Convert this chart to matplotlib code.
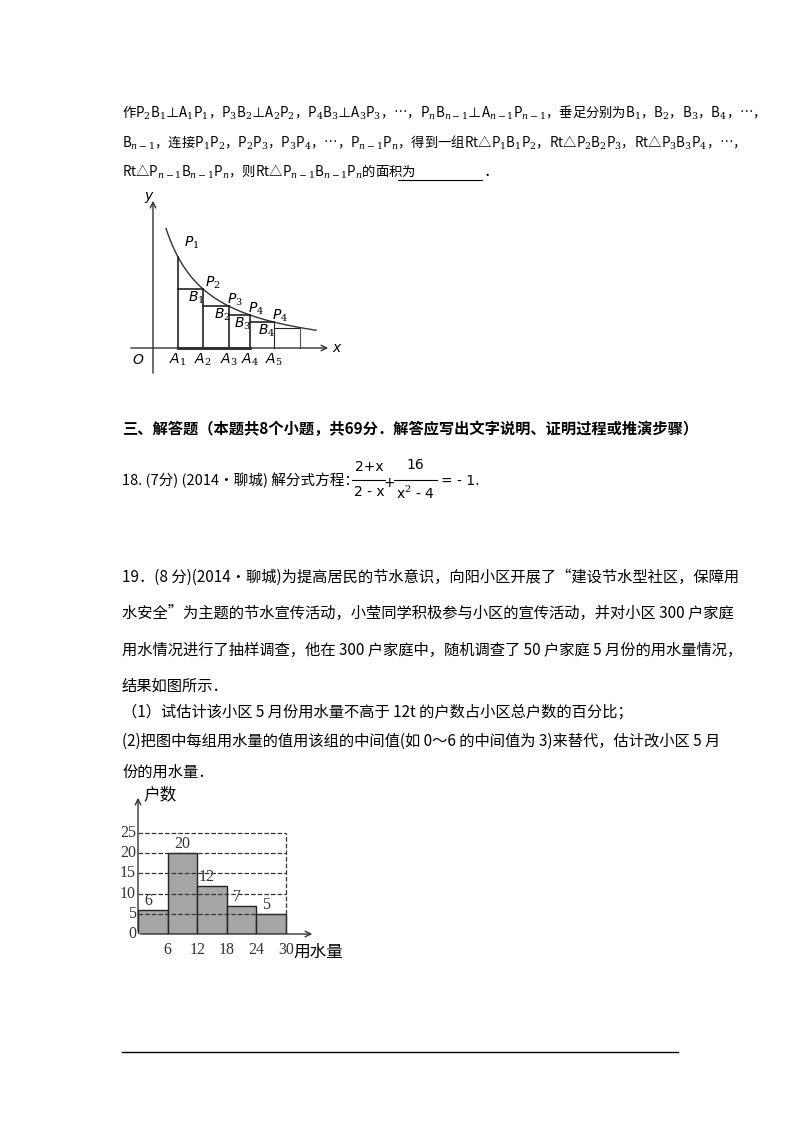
import matplotlib
matplotlib.use("Agg")
import matplotlib.pyplot as plt
import numpy as np

plt.rcParams['font.family'] = ['Noto Sans CJK SC', 'DejaVu Sans']
plt.rcParams['mathtext.fontset'] = 'dejavuserif'

# histogram data
bin_edges = [0, 6, 12, 18, 24, 30]
counts = [6, 20, 12, 7, 5]
y_ticks = [0, 5, 10, 15, 20, 25]
x_ticks = [6, 12, 18, 24, 30]

# geometric diagram data (schematic)
A_pos = [25, 50, 76, 97, 121, 147]
A_labels = ['A$_1$', 'A$_2$', 'A$_3$', 'A$_4$', 'A$_5$']

W, H = 800, 1132
fig = plt.figure(figsize=(8, 11.32), dpi=100)
bg = fig.add_axes([0, 0, 1, 1])
bg.set_xlim(0, W); bg.set_ylim(H, 0); bg.axis('off')

fs = 11
def T(x, y, s, **kw):
    kw.setdefault('fontsize', fs)
    bg.text(x, y, s, va='center', ha='left', **kw)

T(122, 113, '作P$_2$B$_1$⊥A$_1$P$_1$，P$_3$B$_2$⊥A$_2$P$_2$，P$_4$B$_3$⊥A$_3$P$_3$，…，P$_n$B$_{n-1}$⊥A$_{n-1}$P$_{n-1}$，垂足分别为B$_1$，B$_2$，B$_3$，B$_4$，…，', fontsize=9.6)
T(122, 143, 'B$_{n-1}$，连接P$_1$P$_2$，P$_2$P$_3$，P$_3$P$_4$，…，P$_{n-1}$P$_n$，得到一组Rt△P$_1$B$_1$P$_2$，Rt△P$_2$B$_2$P$_3$，Rt△P$_3$B$_3$P$_4$，…，', fontsize=9.6)
T(122, 172, 'Rt△P$_{n-1}$B$_{n-1}$P$_n$，则Rt△P$_{n-1}$B$_{n-1}$P$_n$的面积为', fontsize=9.6)
bg.plot([398, 482], [180, 180], color='black', lw=0.8)
T(484, 172, '．')

# ---- curve diagram in its own axes (pixel-like units)
ox, oy = 153, 348
ax2 = fig.add_axes([(ox - 35) / W, (H - 378) / H, 225 / W, 190 / H])
ax2.set_xlim(-35, 190); ax2.set_ylim(-30, 160); ax2.axis('off')
f = lambda x: 5632 / (x + 30) - 11.4
xs = np.linspace(13, 163, 200)
ax2.plot(xs, f(xs), color='#333', lw=1)
ax2.annotate('', xy=(178, 0), xytext=(-25, 0), arrowprops=dict(arrowstyle='->', color='#333', lw=1))
ax2.annotate('', xy=(0, 150), xytext=(0, -28), arrowprops=dict(arrowstyle='->', color='#333', lw=1))
hs = [f(a) for a in A_pos]
for i in range(5):
    ax2.plot([A_pos[i], A_pos[i]], [0, hs[i]], color='#222', lw=1.2 if i < 4 else 0.8)
    ax2.plot([A_pos[i], A_pos[i + 1]], [hs[i + 1], hs[i + 1]], color='#222', lw=1.2 if i < 4 else 0.8)
ax2.plot([A_pos[5], A_pos[5]], [0, hs[5]], color='#555', lw=0.8)
ax2.plot([A_pos[0], A_pos[3]], [0, 0], color='#222', lw=2)
it = dict(fontsize=10, style='italic', family=['DejaVu Sans'])
for i, lab in enumerate(A_labels):
    ax2.text(A_pos[i], -12, lab, ha='center', va='center', **it)
ax2.text(-15, -12, 'O', ha='center', va='center', **it)
ax2.text(183, 0, 'x', ha='center', va='center', **it)
ax2.text(-5, 152, 'y', ha='center', va='center', **it)
for i, (dx, dy) in enumerate([(14, 14), (10, 6), (6, 6), (6, 6), (6, 6)]):
    ax2.text(A_pos[i] + dx, hs[i] + dy, 'P$_{%d}$' % min(i + 1, 4), ha='center', va='center', **it)
for i in range(4):
    ax2.text(A_pos[i + 1] - 7, hs[i + 1] - 9, 'B$_{%d}$' % (i + 1), ha='center', va='center', **it)

T(122, 429, '三、解答题（本题共8个小题，共69分．解答应写出文字说明、证明过程或推演步骤）', fontweight='bold')

T(122, 480, '18. (7分) (2014•聊城) 解分式方程：', fontsize=10.5)
sf = dict(fontsize=10, family=['DejaVu Sans'], va='center', ha='center')
x0 = 352
bg.text(x0 + 17, 467, '2+x', **sf); bg.plot([x0, x0 + 33], [480, 480], color='black', lw=0.8)
bg.text(x0 + 17, 492, '2 - x', **sf)
bg.text(x0 + 37, 483, '+', **sf)
bg.text(x0 + 63, 465, '16', **sf); bg.plot([x0 + 42, x0 + 85], [480, 480], color='black', lw=0.8)
bg.text(x0 + 63, 493, 'x$^2$ - 4', **sf)
bg.text(x0 + 108, 481, '= - 1.', **sf)

lines = ['19．(8 分)(2014•聊城)为提高居民的节水意识，向阳小区开展了“建设节水型社区，保障用',
         '水安全”为主题的节水宣传活动，小莹同学积极参与小区的宣传活动，并对小区 300 户家庭',
         '用水情况进行了抽样调查，他在 300 户家庭中，随机调查了 50 户家庭 5 月份的用水量情况，',
         '结果如图所示．']
for i, s in enumerate(lines):
    T(122, 577 + 36.5 * i, s)
T(122, 712, '（1）试估计该小区 5 月份用水量不高于 12t 的户数占小区总户数的百分比；')
T(122, 741, '(2)把图中每组用水量的值用该组的中间值(如 0～6 的中间值为 3)来替代，估计改小区 5 月')
T(122, 772, '份的用水量．')

# ---- histogram
ax = fig.add_axes([138 / W, (H - 934) / H, 177 / W, 139 / H])
ax.set_xlim(0, 35.9); ax.set_ylim(0, 34.4); ax.axis('off')
widths = np.diff(bin_edges)
ax.bar(bin_edges[:-1], counts, width=widths, align='edge', color='#a6a6a6', edgecolor='#222', lw=1, zorder=2)
for yv in y_ticks[1:]:
    ax.plot([0, 30], [yv, yv], ls='--', color='#333', lw=0.9, zorder=3)
ax.plot([30, 30], [0, 25], ls='--', color='#333', lw=0.9, zorder=3)
ax.annotate('', xy=(35.9, 0), xytext=(0, 0), arrowprops=dict(arrowstyle='->', color='#333', lw=1))
ax.annotate('', xy=(0, 34.4), xytext=(0, 0), arrowprops=dict(arrowstyle='->', color='#333', lw=1))
hf = dict(fontsize=11.5, family=['Liberation Serif'], color='#333')
for yv in y_ticks:
    ax.text(-0.4, yv, str(yv), ha='right', va='center', **hf)
for xv in x_ticks:
    ax.text(xv, -2.0, str(xv), ha='center', va='top', **hf)
for x0b, w, cnt in zip(bin_edges[:-1], widths, counts):
    ax.text(x0b + w / 2 - (1 if cnt != 20 else 0), cnt + 0.2, str(cnt), ha='center', va='bottom', **hf)
ax.text(1, 34.4, '户数', ha='left', va='center', fontsize=12)
ax.text(31.5, -4.5, '用水量', ha='left', va='center', fontsize=12)

bg.plot([122, 678], [1052, 1052], color='black', lw=1)
fig.savefig('out.png', dpi=100)
